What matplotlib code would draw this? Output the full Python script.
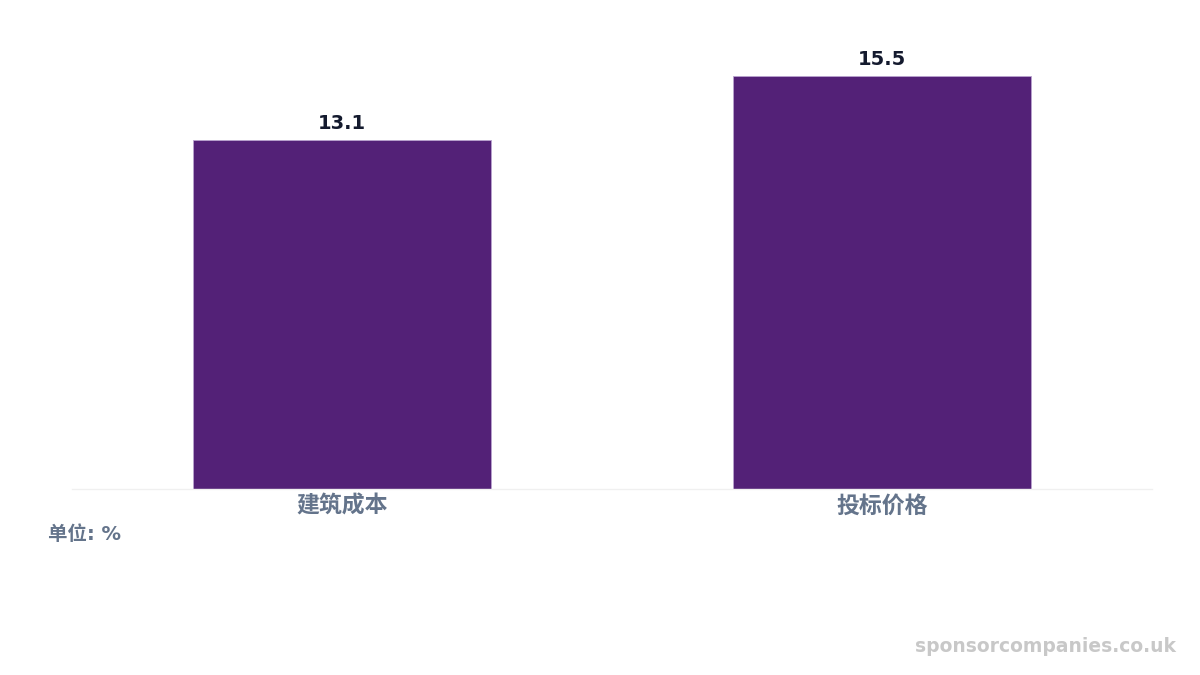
import matplotlib
matplotlib.use("Agg")
import matplotlib.pyplot as plt

# Chart data
categories = ["建筑成本", "投标价格"]
values = [13.1, 15.5]
unit_label = "单位: %"
watermark = "sponsorcompanies.co.uk"

plt.rcParams['font.family'] = 'DejaVu Sans'
mixed = ['DejaVu Sans', 'Noto Sans CJK SC']

fig = plt.figure(figsize=(12, 6.75), dpi=100)
ax = fig.add_axes([72 / 1200, 0.2756, 0.9, 0.671])

x = list(range(len(categories)))
bars = ax.bar(x, values, width=0.552, color="#532177",
              edgecolor="#b9a3cf", linewidth=0.6)

for b, v in zip(bars, values):
    ax.annotate(f"{v:.1f}", (b.get_x() + b.get_width() / 2, v),
                xytext=(0, 5), textcoords="offset points",
                ha="center", va="bottom", fontsize=14, fontweight="bold",
                color="#141a2e", family="DejaVu Sans")

ax.set_xlim(-0.5, 1.5)
ax.set_ylim(0, 17)
ax.set_xticks(x)
ax.set_xticklabels(categories, fontsize=16.5, fontweight="bold",
                   color="#64748b", family=['Noto Sans CJK SC', 'DejaVu Sans'])
ax.tick_params(axis="x", length=0, pad=4)
ax.set_yticks([])
for side in ["top", "right", "left"]:
    ax.spines[side].set_visible(False)
ax.spines["bottom"].set_color("#f0f0f0")
ax.spines["bottom"].set_linewidth(1)

fig.text(48 / 1200, 1 - 535 / 675, unit_label, ha="left", va="center",
         fontsize=14, fontweight="bold", color="#64748b", family=mixed)
fig.text(1176 / 1200, 1 - 646 / 675, watermark, ha="right", va="center",
         fontsize=13.5, fontweight="bold", color="#c8c8c8", family="DejaVu Sans")

fig.savefig("out.png", dpi=100)
